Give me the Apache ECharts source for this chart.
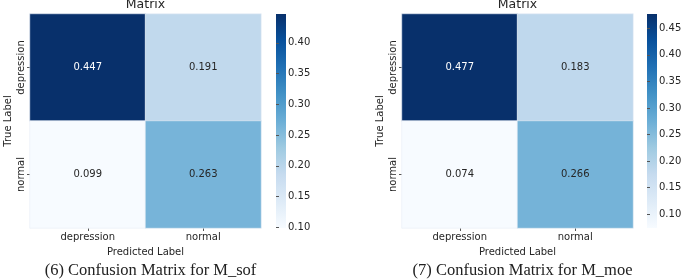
<!DOCTYPE html>
<html>
<head>
<meta charset="UTF-8">
<script src="https://cdn.jsdelivr.net/npm/echarts@6/dist/echarts.min.js"></script>
<style>
  html, body { margin: 0; padding: 0; background: #fff; }
  #chart { width: 685px; height: 279px; }
</style>
</head>
<body>
<div id="chart"></div>
<script type="text/javascript">
// Data.
const predLabels = ['depression', 'normal'];
const trueLabels = ['depression', 'normal'];
const sofValues = [[0.447, 0.191], [0.099, 0.263]];
const moeValues = [[0.477, 0.183], [0.074, 0.266]];
const sofTicks = [0.10, 0.15, 0.20, 0.25, 0.30, 0.35, 0.40];
const moeTicks = [0.10, 0.15, 0.20, 0.25, 0.30, 0.35, 0.40, 0.45];
const captions = ['(6) Confusion Matrix for M_sof', '(7) Confusion Matrix for M_moe'];

const blues = ['#f7fbff', '#deebf7', '#c6dbef', '#9ecae1', '#6baed6',
               '#4292c6', '#2171b5', '#08519c', '#08306b'];
const font = 'DejaVu Sans';

function cells(mat) {
    const out = [];
    mat.forEach((row, r) => row.forEach((v, c) => {
        out.push({
            value: [c, r, v],
            label: { color: v > 0.35 ? '#ffffff' : '#262626' }
        });
    }));
    return out;
}
function range(mat) {
    const flat = mat.flat();
    return [Math.min(...flat), Math.max(...flat)];
}

const panels = [
    { vals: sofValues, ticks: sofTicks, left: 30, bar: 276 },
    { vals: moeValues, ticks: moeTicks, left: 402, bar: 647 }
];
const gridW = 231, gridH = 214, gridTop = 14, barW = 10;

const grid = [], xAxis = [], yAxis = [], series = [], visualMap = [], graphic = [];
panels.forEach((p, i) => {
    const [mn, mx] = range(p.vals);
    // heatmap grid
    grid.push({ left: p.left, top: gridTop, width: gridW, height: gridH });
    // colorbar tick grid
    grid.push({ left: p.bar, top: gridTop, width: barW, height: gridH });

    xAxis.push({
        type: 'category', gridIndex: 2 * i, data: predLabels,
        name: 'Predicted Label', nameLocation: 'middle', nameGap: 19,
        nameTextStyle: { fontFamily: font, fontSize: 10, color: '#262626' },
        axisLine: { show: false },
        axisTick: { show: true, alignWithLabel: true, length: 3, lineStyle: { color: '#555' } },
        axisLabel: { fontFamily: font, fontSize: 10, color: '#262626', margin: 4 },
        splitLine: { show: false }
    });
    xAxis.push({ type: 'value', gridIndex: 2 * i + 1, show: false });

    yAxis.push({
        type: 'category', gridIndex: 2 * i, data: trueLabels, inverse: true,
        name: 'True Label', nameLocation: 'middle', nameGap: 17, nameRotate: 90,
        nameTextStyle: { fontFamily: font, fontSize: 10, color: '#262626' },
        axisLine: { show: false },
        axisTick: { show: true, alignWithLabel: true, length: 3, lineStyle: { color: '#555' } },
        axisLabel: { fontFamily: font, fontSize: 10, color: '#262626', rotate: 90, margin: 4 },
        splitLine: { show: false }
    });
    yAxis.push({
        type: 'value', gridIndex: 2 * i + 1, min: mn, max: mx, position: 'right',
        axisLine: { show: false },
        splitLine: { show: false },
        axisTick: { show: true, length: 3, inside: false, customValues: p.ticks, lineStyle: { color: '#555' } },
        axisLabel: {
            fontFamily: font, fontSize: 10, color: '#262626', margin: 2,
            customValues: p.ticks, formatter: v => v.toFixed(2)
        }
    });

    series.push({
        type: 'heatmap', xAxisIndex: 2 * i, yAxisIndex: 2 * i,
        data: cells(p.vals),
        itemStyle: { borderColor: '#e8eef6', borderWidth: 0.6 },
        label: { show: true, fontFamily: font, fontSize: 10, formatter: d => d.value[2].toFixed(3) },
        emphasis: { disabled: true }
    });

    visualMap.push({
        type: 'continuous', seriesIndex: i, dimension: 2,
        min: mn, max: mx, show: false,
        inRange: { color: blues }
    });

    // colorbar strip (legend, same Blues ramp as the visualMap)
    graphic.push({
        type: 'rect', shape: { x: p.bar, y: gridTop, width: barW, height: gridH },
        style: {
            fill: new echarts.graphic.LinearGradient(0, 1, 0, 0,
                blues.map((c, k) => ({ offset: k / (blues.length - 1), color: c })))
        },
        silent: true
    });

    const cx = p.left + gridW / 2;
    graphic.push({
        type: 'text', x: cx, y: 5,
        style: { text: 'Matrix', fontFamily: font, fontSize: 12.5, fill: '#262626',
                 textAlign: 'center', textVerticalAlign: 'middle' }
    });
    graphic.push({
        type: 'text', x: cx + 5, y: 271,
        style: { text: captions[i], fontFamily: 'Liberation Serif', fontSize: 16.5, fill: '#222',
                 textAlign: 'center', textVerticalAlign: 'middle' }
    });
});

const chart = echarts.init(document.getElementById('chart'));
chart.setOption({
    backgroundColor: '#ffffff',
    animation: false,
    grid: grid,
    xAxis: xAxis,
    yAxis: yAxis,
    visualMap: visualMap,
    series: series,
    graphic: graphic
});
</script>
</body>
</html>
